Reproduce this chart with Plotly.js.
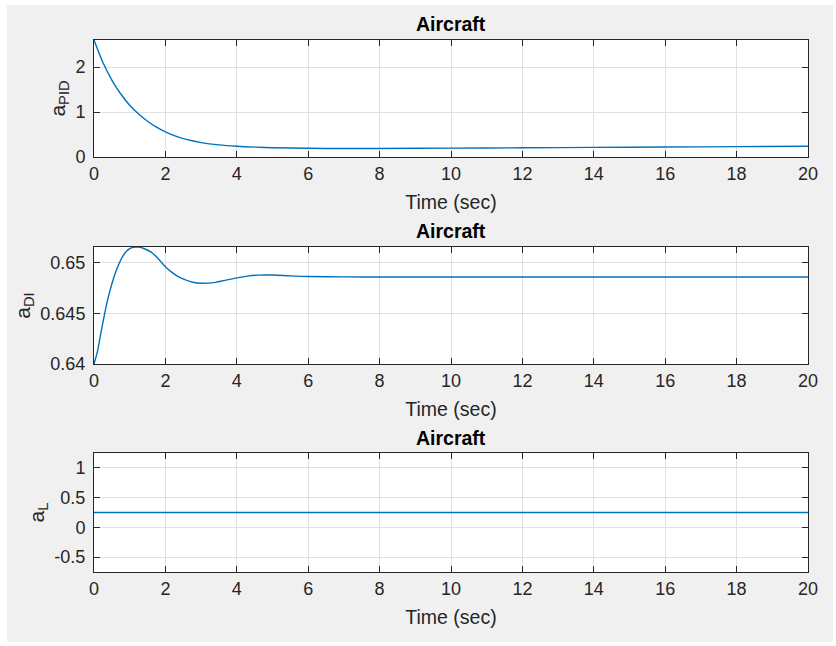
<!DOCTYPE html>
<html>
<head>
<meta charset="utf-8">
<script src="https://cdn.plot.ly/plotly-3.0.1.min.js"></script>
<style>
  html, body { margin: 0; padding: 0; background: #ffffff; }
  #frame { position: absolute; left: 7px; top: 5px; width: 826px; height: 637px; background: #f0f0f0; }
  #chart { position: absolute; left: 0; top: 0; width: 836px; height: 646px; }
</style>
</head>
<body>
<div id="frame"></div>
<div id="chart"></div>
<script>
// Aircraft response: three adaptation parameters over 20 s of simulation
const timePID = [0, 0.25, 0.5, 0.75, 1, 1.25, 1.5, 1.75, 2, 2.25, 2.5, 2.75, 3, 3.5, 4, 4.5, 5, 6, 7, 8, 10, 12, 14, 16, 18, 20];
const aPID    = [2.6, 2.1, 1.71, 1.40, 1.15, 0.955, 0.795, 0.665, 0.56, 0.475, 0.41, 0.36, 0.32, 0.27, 0.24, 0.22, 0.207, 0.193, 0.188, 0.19, 0.197, 0.205, 0.213, 0.222, 0.23, 0.238];

const timeDI = [0, 0.1, 0.2, 0.3, 0.4, 0.5, 0.6, 0.7, 0.8, 0.9, 1.0, 1.1, 1.2, 1.3, 1.4, 1.6, 1.8, 2.0, 2.2, 2.4, 2.6, 2.8, 3.0, 3.2, 3.4, 3.6, 3.8, 4.0, 4.3, 4.6, 5.0, 5.5, 6.0, 7, 8, 10, 12, 14, 16, 18, 20];
const aDI    = [0.6400, 0.6413, 0.6432, 0.6450, 0.6466, 0.6479, 0.6490, 0.6499, 0.6506, 0.6511, 0.6514, 0.65152, 0.65155, 0.65152, 0.6514, 0.65105, 0.6504, 0.6496, 0.6490, 0.64855, 0.64825, 0.64805, 0.64797, 0.64798, 0.64806, 0.6482, 0.64836, 0.6485, 0.64867, 0.64877, 0.64878, 0.6487, 0.64864, 0.6486, 0.64859, 0.64859, 0.64859, 0.64859, 0.64859, 0.64859, 0.64859];

const timeL = [0, 20];
const aL    = [0.25, 0.25];

const xTicks = [0, 2, 4, 6, 8, 10, 12, 14, 16, 18, 20];
const yTicksPID = [0, 1, 2];
const yTicksDI = [0.64, 0.645, 0.65];
const yTicksL = [-0.5, 0, 0.5, 1];

const W = 836, H = 646;
const axisColor = '#262626';
const gridColor = '#e0e0e0';
const lineColor = '#0072bd';
const fontFamily = '"Liberation Sans", Arial, Helvetica, sans-serif';

const xDomain = [94 / W, 808 / W];
function yDom(top, bottom) { return [1 - bottom / H, 1 - top / H]; }

function xAxis(anchor) {
  return {
    anchor: anchor, domain: xDomain, range: [0, 20],
    tickvals: xTicks, ticktext: xTicks.map(String),
    ticks: 'inside', ticklen: 6, tickcolor: axisColor, tickwidth: 1,
    showline: true, linecolor: axisColor, linewidth: 1, mirror: 'ticks',
    showgrid: true, gridcolor: gridColor, gridwidth: 1, zeroline: false,
    tickfont: { family: fontFamily, size: 18, color: axisColor },
    ticklabelstandoff: 0,
    title: { text: 'Time (sec)', font: { family: fontFamily, size: 19.5, color: axisColor }, standoff: 12 }
  };
}
function yAxis(anchor, dom, range, ticks, label) {
  return {
    anchor: anchor, domain: dom, range: range,
    tickvals: ticks, ticktext: ticks.map(String),
    ticks: 'inside', ticklen: 6, tickcolor: axisColor, tickwidth: 1,
    showline: true, linecolor: axisColor, linewidth: 1, mirror: 'ticks',
    showgrid: true, gridcolor: gridColor, gridwidth: 1, zeroline: false,
    tickfont: { family: fontFamily, size: 18, color: axisColor },
    ticklabelstandoff: 4,
    title: { text: label, font: { family: fontFamily, size: 21, color: axisColor }, standoff: 4 }
  };
}

const traces = [
  { x: timePID, y: aPID, xaxis: 'x', yaxis: 'y', type: 'scatter', mode: 'lines',
    line: { color: lineColor, width: 1.4, shape: 'spline', smoothing: 0.8 }, hoverinfo: 'skip' },
  { x: timeDI, y: aDI, xaxis: 'x2', yaxis: 'y2', type: 'scatter', mode: 'lines',
    line: { color: lineColor, width: 1.4, shape: 'spline', smoothing: 0.8 }, hoverinfo: 'skip' },
  { x: timeL, y: aL, xaxis: 'x3', yaxis: 'y3', type: 'scatter', mode: 'lines',
    line: { color: lineColor, width: 1.6 }, hoverinfo: 'skip' }
];

function titleAnno(yPx) {
  return { text: '<b>Aircraft</b>', xref: 'paper', yref: 'paper', x: 451 / W, y: 1 - yPx / H,
    xanchor: 'center', yanchor: 'middle', showarrow: false,
    font: { family: fontFamily, size: 19.5, color: '#000000' } };
}

const layout = {
  width: W, height: H,
  margin: { l: 0, r: 0, t: 0, b: 0 },
  paper_bgcolor: 'rgba(0,0,0,0)', plot_bgcolor: '#ffffff',
  showlegend: false,
  xaxis: xAxis('y'),
  xaxis2: xAxis('y2'),
  xaxis3: xAxis('y3'),
  yaxis: yAxis('x', yDom(40, 157), [0, 2.6], yTicksPID, 'a<sub>PID</sub>'),
  yaxis2: yAxis('x2', yDom(247, 364), [0.64, 0.65155], yTicksDI, 'a<sub>DI</sub>'),
  yaxis3: yAxis('x3', yDom(453, 572), [-0.75, 1.25], yTicksL, 'a<sub>L</sub>'),
  annotations: [titleAnno(24), titleAnno(231), titleAnno(438)]
};

Plotly.newPlot('chart', traces, layout, { staticPlot: true, displayModeBar: false });
</script>
</body>
</html>
